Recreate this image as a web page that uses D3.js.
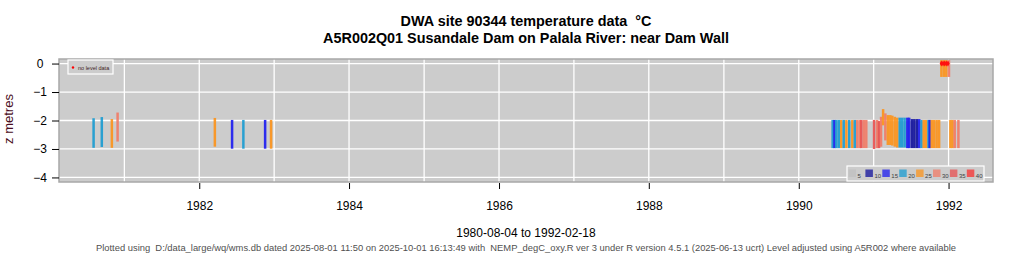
<!DOCTYPE html>
<html>
<head>
<meta charset="utf-8">
<script src="https://cdn.jsdelivr.net/npm/d3@7"></script>
<style>
  body { margin: 0; background: #fff; }
  svg { display: block; font-family: 'Liberation Sans', Arial, sans-serif; }
</style>
</head>
<body>
<svg width="1024" height="256"></svg>
<script>
// sample dates, level range (z metres) and temperature for each profile bar
const sampleDates = [
  '1980-08-04', '1980-09-13', '1980-11-01', '1980-11-29',
  '1982-03-18', '1982-06-10', '1982-08-04', '1982-11-18', '1982-12-17',
  '1990-06-15', '1990-06-24', '1990-07-03', '1990-07-15', '1990-07-27', '1990-08-08',
  '1990-08-21', '1990-09-04', '1990-09-19', '1990-10-01', '1990-10-13', '1990-10-25',
  '1990-11-02', '1990-11-14', '1990-11-26',
  '1991-01-03', '1991-01-18', '1991-01-27', '1991-02-06', '1991-02-16', '1991-02-27',
  '1991-03-11', '1991-03-23', '1991-04-02', '1991-04-14', '1991-04-26', '1991-05-08',
  '1991-05-20', '1991-06-01', '1991-06-14', '1991-06-23', '1991-07-06', '1991-07-18',
  '1991-07-30', '1991-08-11', '1991-08-22', '1991-09-02', '1991-09-14', '1991-09-25',
  '1991-10-01', '1991-10-11', '1991-10-23', '1991-11-04', '1991-11-16',
  '1991-11-27', '1991-12-09', '1991-12-21', '1992-01-03',
  '1992-01-10', '1992-01-20', '1992-01-31', '1992-02-18'
];
const topZ = [
  -1.92, -1.88, -1.95, -1.72,
  -1.91, -1.98, -1.98, -1.98, -1.98,
  -1.98, -1.98, -1.98, -1.98, -1.98, -1.98,
  -1.98, -1.98, -1.98, -1.98, -1.98, -1.98,
  -1.98, -1.98, -1.98,
  -1.98, -1.98, -2.02, -1.87, -1.60, -1.75,
  -1.81, -1.81, -1.83, -1.87, -1.90, -1.90,
  -1.90, -1.90, -1.90, -1.90, -1.95, -1.95,
  -1.95, -1.95, -1.98, -1.98, -1.98, -1.98,
  -1.98, -1.98, -1.98, -1.98, -1.98,
  0.12, 0.12, 0.12, 0.12,
  -1.98, -1.98, -1.98, -1.98
];
const bottomZ = [
  -2.96, -2.93, -2.96, -2.74,
  -2.92, -2.99, -2.99, -2.99, -2.99,
  -2.97, -2.97, -2.97, -2.97, -2.97, -2.97,
  -2.97, -2.97, -2.97, -2.97, -2.97, -2.97,
  -2.97, -2.97, -2.97,
  -3.00, -2.97, -2.97, -2.92, -2.17, -2.70,
  -2.86, -2.86, -2.88, -2.92, -2.95, -2.95,
  -2.95, -2.95, -2.97, -2.97, -2.97, -2.97,
  -2.97, -2.97, -2.97, -2.97, -2.97, -2.97,
  -2.97, -2.97, -2.97, -2.97, -2.97,
  -0.47, -0.47, -0.47, -0.47,
  -2.97, -2.97, -2.97, -2.97
];
const tempC = [
  19, 19, 24, 28,
  24, 14, 19, 14, 24,
  19, 14, 19, 19, 24, 19,
  24, 19, 24, 19, 28, 28,
  33, 28, 28,
  33, 28, 33, 28, 24, 28,
  24, 24, 24, 24, 24, 19,
  19, 19, 14, 14, 9, 9,
  9, 14, 19, 24, 24, 19,
  14, 24, 24, 24, 24,
  24, 24, 24, 28,
  24, 24, 28, 28
];
const noLevelDates = ['1991-11-27', '1991-12-05', '1991-12-13', '1991-12-21', '1991-12-29'];

const tempBreaks = [5, 10, 15, 20, 25, 30, 35];
const tempLabels = ['5', '10', '15', '20', '25', '30', '35', '40'];
const tempColours = ['#c0c0c0', '#12129c', '#1e1ef0', '#1c9cd1', '#fc941c', '#f17c67', '#e85050', '#f83030'];
const yTicks = [0, -1, -2, -3, -4];
const xTickYears = [1982, 1984, 1986, 1988, 1990, 1992];

const svg = d3.select('svg');
const parse = d3.timeParse('%Y-%m-%d');
const dates = sampleDates.map(parse);

const panel = { left: 59, right: 993, top: 59, bottom: 182 };

// R style: data range extended by 4% on each side
const ext = d3.extent(dates);
const pad = (ext[1] - ext[0]) * 0.04;
const x = d3.scaleTime()
  .domain([new Date(+ext[0] - pad), new Date(+ext[1] + pad)])
  .range([panel.left, panel.right]);
const y = d3.scaleLinear()
  .domain([-4 - 0.16, 0.16])
  .range([panel.bottom, panel.top]);
const colour = d3.scaleThreshold().domain(tempBreaks).range(tempColours);

// panel
svg.append('rect')
  .attr('x', panel.left).attr('y', panel.top)
  .attr('width', panel.right - panel.left).attr('height', panel.bottom - panel.top)
  .attr('fill', '#cccccc');

svg.append('clipPath').attr('id', 'clip')
  .append('rect')
  .attr('x', panel.left).attr('y', panel.top)
  .attr('width', panel.right - panel.left).attr('height', panel.bottom - panel.top);

const g = svg.append('g').attr('clip-path', 'url(#clip)');

// grid: every year and every metre
g.selectAll('line.vgrid')
  .data(x.ticks(d3.timeYear.every(1)))
  .enter().append('line')
  .attr('x1', d => x(d)).attr('x2', d => x(d))
  .attr('y1', panel.top).attr('y2', panel.bottom)
  .attr('stroke', '#fff').attr('stroke-width', 1.3);

g.selectAll('line.hgrid')
  .data(yTicks)
  .enter().append('line')
  .attr('x1', panel.left).attr('x2', panel.right)
  .attr('y1', d => y(d)).attr('y2', d => y(d))
  .attr('stroke', '#fff').attr('stroke-width', 1.3);

// profile bars
const barW = 2.5;
g.selectAll('rect.bar')
  .data(dates.map((d, i) => ({ date: d, top: topZ[i], bot: bottomZ[i], t: tempC[i] })))
  .enter().append('rect')
  .attr('x', d => x(d.date) - barW / 2)
  .attr('width', barW)
  .attr('y', d => y(d.top))
  .attr('height', d => y(d.bot) - y(d.top))
  .attr('fill', d => colour(d.t))
  .attr('opacity', 0.92);

// samples without level data
g.selectAll('path.nolevel')
  .data(noLevelDates.map(parse))
  .enter().append('path')
  .attr('transform', d => `translate(${x(d)},${y(0)})`)
  .attr('d', d3.symbol(d3.symbolDiamond, 10))
  .attr('fill', '#ff1010');

svg.append('rect')
  .attr('x', panel.left).attr('y', panel.top)
  .attr('width', panel.right - panel.left).attr('height', panel.bottom - panel.top)
  .attr('fill', 'none').attr('stroke', '#a8a8a8').attr('stroke-width', 1.5);

// axes
const xAxis = d3.axisBottom(x)
  .tickValues(xTickYears.map(yr => new Date(yr, 0, 1)))
  .tickFormat(d3.timeFormat('%Y'))
  .tickSize(6).tickPadding(12);
svg.append('g')
  .attr('transform', `translate(0,${panel.bottom + 1})`)
  .call(xAxis)
  .call(a => a.select('.domain').remove())
  .call(a => a.selectAll('text').attr('font-size', 12).attr('fill', '#000').attr('font-family', null))
  .call(a => a.selectAll('line').attr('stroke', '#000'));

const yAxis = d3.axisLeft(y).tickValues(yTicks).tickFormat(d3.format('d')).tickSize(7).tickPadding(9);
svg.append('g')
  .attr('transform', `translate(${panel.left},0)`)
  .call(yAxis)
  .call(a => a.select('.domain').remove())
  .call(a => a.selectAll('text').attr('font-size', 12).attr('fill', '#000')
    .attr('font-family', null).attr('text-anchor', 'middle').attr('x', -19))
  .call(a => a.selectAll('line').attr('stroke', '#000'));

svg.append('text')
  .attr('transform', 'translate(13,119) rotate(-90)')
  .attr('text-anchor', 'middle')
  .attr('font-size', 13)
  .attr('fill', '#4a0c20')
  .text('z metres');

// titles
const cx = (panel.left + panel.right) / 2;
svg.append('text').attr('x', cx).attr('y', 26).attr('text-anchor', 'middle')
  .attr('font-size', 14.4).attr('font-weight', 'bold').style('white-space', 'pre')
  .text('DWA site 90344 temperature data  \u00B0C');
svg.append('text').attr('x', cx).attr('y', 43).attr('text-anchor', 'middle')
  .attr('font-size', 14.4).attr('font-weight', 'bold')
  .text('A5R002Q01 Susandale Dam on Palala River: near Dam Wall');
svg.append('text').attr('x', cx).attr('y', 237).attr('text-anchor', 'middle')
  .attr('font-size', 12)
  .text('1980-08-04 to 1992-02-18');
svg.append('text').attr('x', cx).attr('y', 251).attr('text-anchor', 'middle')
  .attr('font-size', 9.4).attr('fill', '#505050').style('white-space', 'pre')
  .text('Plotted using  D:/data_large/wq/wms.db dated 2025-08-01 11:50 on 2025-10-01 16:13:49 with  NEMP_degC_oxy.R ver 3 under R version 4.5.1 (2025-06-13 ucrt) Level adjusted using A5R002 where available');

// legend: no level data
const lg1 = svg.append('g').attr('transform', 'translate(68,60)');
lg1.append('rect').attr('width', 45).attr('height', 14)
  .attr('fill', '#cccccc').attr('stroke', '#fff').attr('stroke-width', 1.2);
lg1.append('circle').attr('cx', 5).attr('cy', 7.5).attr('r', 1.2).attr('fill', '#ff0000');
lg1.append('text').attr('x', 10).attr('y', 9.5).attr('font-size', 5.5).attr('fill', '#402020')
  .text('no level data');

// legend: temperature classes
const lg2 = svg.append('g').attr('transform', 'translate(847,166)');
lg2.append('rect').attr('width', 137).attr('height', 15)
  .attr('fill', '#cccccc').attr('stroke', '#fff').attr('stroke-width', 1.2);
const items = lg2.selectAll('g.item')
  .data(tempLabels)
  .enter().append('g')
  .attr('transform', (d, i) => `translate(${1.5 + i * 16.9},3.5)`);
items.append('rect').attr('width', 7.5).attr('height', 7.5)
  .attr('fill', (d, i) => tempColours[i]).attr('opacity', 0.75);
items.append('text').attr('x', 9).attr('y', 8.5).attr('font-size', 6).attr('fill', '#404040')
  .text(d => d);
</script>
</body>
</html>
